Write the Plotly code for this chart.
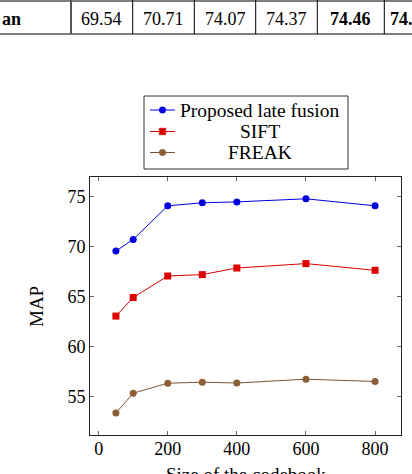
import plotly.graph_objects as go

# ---- data ----
codebook_sizes = [50, 100, 200, 300, 400, 600, 800]
late_fusion = [69.54, 70.71, 74.07, 74.37, 74.46, 74.77, 74.07]
sift = [63.04, 64.9, 67.05, 67.19, 67.85, 68.29, 67.62]
freak = [53.35, 55.33, 56.33, 56.43, 56.35, 56.73, 56.5]

series_names = ["Proposed late fusion", "SIFT", "FREAK"]
x_ticks = [0, 200, 400, 600, 800]
y_ticks = [55, 60, 65, 70, 75]
x_title = "Size of the codebook"
y_title = "MAP"

table_row_label = "an"
table_values = ["69.54", "70.71", "74.07", "74.37", "74.46", "74.77"]
table_bold = [False, False, False, False, True, True]

# ---- layout geometry (pixels) ----
W, H = 412, 474
L, R, T, B = 90, 401, 177, 435
PW, PH = R - L, B - T


def px(x):
    return (x - L) / PW


def py(y):
    return (B - y) / PH


FONT = "Liberation Serif"
BLUE = "#0000e0"
RED = "#dd0000"
BROWN_LINE = "#7a5230"
BROWN_FILL = "#8c5e35"

fig = go.Figure()
fig.add_trace(go.Scatter(x=codebook_sizes, y=late_fusion, mode="lines+markers",
                         name=series_names[0], line=dict(color=BLUE, width=1),
                         marker=dict(symbol="circle", size=7, color=BLUE)))
fig.add_trace(go.Scatter(x=codebook_sizes, y=sift, mode="lines+markers",
                         name=series_names[1], line=dict(color=RED, width=1),
                         marker=dict(symbol="square", size=7, color=RED)))
fig.add_trace(go.Scatter(x=codebook_sizes, y=freak, mode="lines+markers",
                         name=series_names[2], line=dict(color=BROWN_LINE, width=1),
                         marker=dict(symbol="circle", size=7, color=BROWN_FILL)))

shapes = []
annotations = []

# ---- manual legend ----
shapes.append(dict(type="rect", xref="paper", yref="paper",
                   x0=px(144), x1=px(348), y0=py(169), y1=py(96),
                   line=dict(color="#333333", width=1), fillcolor="white"))
leg_y = [110, 131.5, 152.5]
leg_colors = [(BLUE, BLUE, "circle"), (RED, RED, "square"), (BROWN_LINE, BROWN_FILL, "circle")]
for name, yy, (lc, mc, sym) in zip(series_names, leg_y, leg_colors):
    shapes.append(dict(type="line", xref="paper", yref="paper",
                       x0=px(150), x1=px(175), y0=py(yy), y1=py(yy),
                       line=dict(color=lc, width=1)))
    r = 3.3
    shapes.append(dict(type="circle" if sym == "circle" else "rect",
                       xref="paper", yref="paper",
                       x0=px(162.5 - r), x1=px(162.5 + r), y0=py(yy + r), y1=py(yy - r),
                       line=dict(color=mc, width=0.5), fillcolor=mc))
    annotations.append(dict(text=name, xref="paper", yref="paper",
                            x=px(259.5), y=py(yy), xanchor="center", yanchor="middle",
                            showarrow=False, font=dict(family=FONT, size=19.5, color="black")))

# ---- table fragment at top ----
shapes.append(dict(type="line", xref="paper", yref="paper", x0=px(0), x1=px(W),
                   y0=py(1), y1=py(1), line=dict(color="black", width=1)))
shapes.append(dict(type="line", xref="paper", yref="paper", x0=px(0), x1=px(W),
                   y0=py(34), y1=py(34), line=dict(color="black", width=1)))
vlines = [71, 132.7, 194.3, 255.7, 317.3, 384.3]
for i, vx in enumerate(vlines):
    shapes.append(dict(type="line", xref="paper", yref="paper", x0=px(vx), x1=px(vx),
                       y0=py(0), y1=py(34),
                       line=dict(color="#555555" if i == 0 else "black", width=2 if i == 0 else 1)))
annotations.append(dict(text="<b>%s</b>" % table_row_label, xref="paper", yref="paper",
                        x=px(0), y=py(19), xanchor="left", yanchor="middle", showarrow=False,
                        font=dict(family=FONT, size=18, color="black")))
centers = [(vlines[i] + vlines[i + 1]) / 2 for i in range(len(vlines) - 1)] + [410]
for val, b, cx in zip(table_values, table_bold, centers):
    annotations.append(dict(text=("<b>%s</b>" % val) if b else val, xref="paper", yref="paper",
                            x=px(cx), y=py(19), xanchor="center", yanchor="middle",
                            showarrow=False, font=dict(family=FONT, size=18, color="black")))

# ---- axis titles ----
annotations.append(dict(text=x_title, xref="paper", yref="paper",
                        x=0.5, y=py(462), xanchor="center", yanchor="top", showarrow=False,
                        font=dict(family=FONT, size=19, color="black")))
annotations.append(dict(text=y_title, xref="paper", yref="paper", textangle=-90,
                        x=px(36), y=0.5, xanchor="center", yanchor="middle", showarrow=False,
                        font=dict(family=FONT, size=19, color="black")))

axis_common = dict(showline=True, linecolor="#222222", linewidth=1, mirror="ticks",
                   ticks="inside", ticklen=4, tickcolor="#666666", tickwidth=1,
                   showgrid=False, zeroline=False, automargin=False,
                   tickfont=dict(family=FONT, size=18, color="black"))

fig.update_layout(
    width=W, height=H,
    margin=dict(l=L, r=W - R, t=T, b=H - B, pad=0),
    plot_bgcolor="white", paper_bgcolor="white",
    showlegend=False,
    shapes=shapes, annotations=annotations,
    xaxis=dict(range=[-25, 875], tickvals=x_ticks, ticklabelstandoff=-3, **axis_common),
    yaxis=dict(range=[51.15, 76.95], tickvals=y_ticks, **axis_common),
)

fig.write_html("out.html", config={"displayModeBar": False},
               post_script="document.body.style.margin='0';document.body.style.overflow='hidden';")
